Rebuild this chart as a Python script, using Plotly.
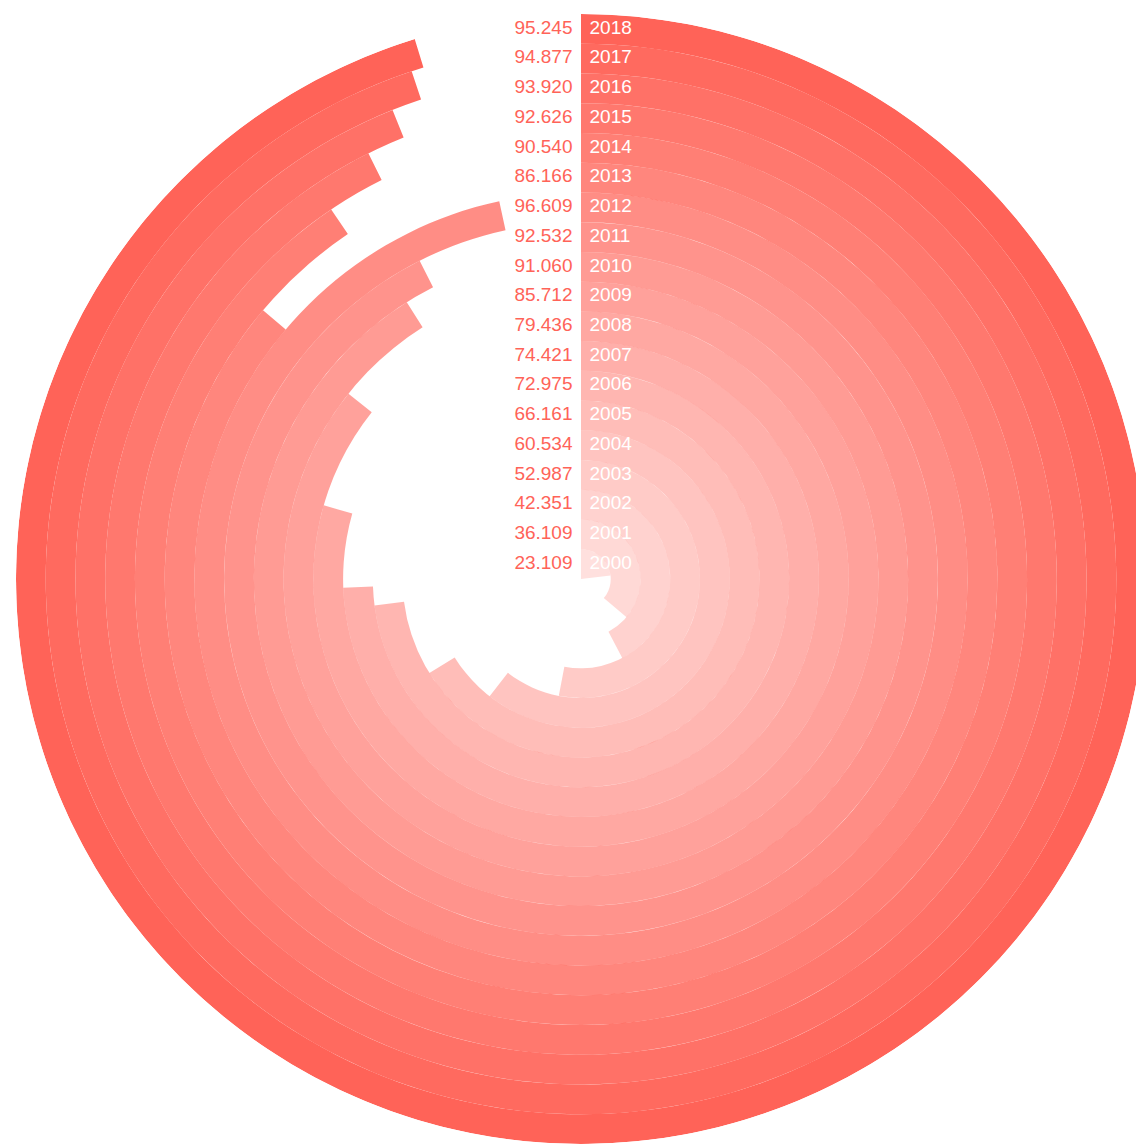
import plotly.graph_objects as go

years = [str(y) for y in range(2000, 2019)]
values = [23.109, 36.109, 42.351, 52.987, 60.534, 66.161, 72.975, 74.421,
          79.436, 85.712, 91.060, 92.532, 96.609, 86.166, 90.540, 92.626,
          93.920, 94.877, 95.245]

BASE_RGB = "255,99,88"
n = len(years)
alphas = [0.2 + 0.8 * i / (n - 1) for i in range(n)]
colors = [f"rgba({BASE_RGB},{a:.3f})" for a in alphas]

ring_base = list(range(n))
sweep = [v * 3.6 for v in values]
mid = [s / 2 for s in sweep]

fig = go.Figure()

fig.add_trace(go.Barpolar(
    r=[1] * n,
    base=ring_base,
    theta=mid,
    width=sweep,
    marker=dict(color=colors, line=dict(width=0)),
    hoverinfo="skip",
    showlegend=False,
))

label_r = [b + 0.5 for b in ring_base]
font_family = "Liberation Sans, Arial, sans-serif"
# invisible markers only to push the text off the start line
ghost = dict(size=12, color="rgba(0,0,0,0)")

fig.add_trace(go.Scatterpolar(
    r=label_r,
    theta=[0] * n,
    mode="markers+text",
    marker=ghost,
    text=[f"{v:.3f}" for v in values],
    textposition="middle left",
    textfont=dict(family=font_family, size=19, color=f"rgb({BASE_RGB})"),
    hoverinfo="skip",
    showlegend=False,
))

fig.add_trace(go.Scatterpolar(
    r=label_r,
    theta=[0] * n,
    mode="markers+text",
    marker=ghost,
    text=years,
    textposition="middle right",
    textfont=dict(family=font_family, size=19, color="white"),
    hoverinfo="skip",
    showlegend=False,
))

fig.update_layout(
    width=1144,
    height=1146,
    margin=dict(l=8, r=6, t=6, b=10),
    paper_bgcolor="white",
    plot_bgcolor="white",
    polar=dict(
        bgcolor="white",
        domain=dict(x=[0, 1], y=[0, 1]),
        radialaxis=dict(visible=False, range=[0, n]),
        angularaxis=dict(visible=False, direction="clockwise", rotation=90),
    ),
)

fig.write_html("out.html")
